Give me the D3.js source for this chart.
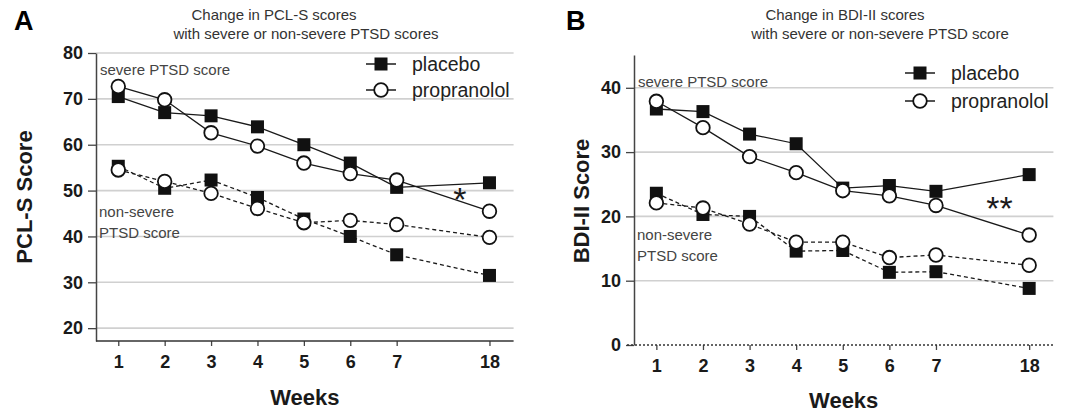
<!DOCTYPE html>
<html>
<head>
<meta charset="utf-8">
<script src="https://cdn.jsdelivr.net/npm/d3@7"></script>
<style>
body { margin: 0; background: #fff; }
svg text { font-family: "Liberation Sans", Arial, sans-serif; }
</style>
</head>
<body>
<div id="chart"></div>
<script>
// weeks on the x axis (18 sits after a gap)
var weeks = [1, 2, 3, 4, 5, 6, 7, 18];

// panel A: PCL-S scores
var pclSeverePlacebo = [70.5, 67.0, 66.3, 63.9, 60.0, 56.0, 50.7, 51.7];
var pclSeverePropranolol = [72.7, 69.8, 62.6, 59.7, 56.0, 53.7, 52.3, 45.5];
var pclMildPlacebo = [55.3, 50.5, 52.3, 48.5, 43.8, 40.0, 36.0, 31.5];
var pclMildPropranolol = [54.5, 52.0, 49.4, 46.1, 43.0, 43.5, 42.6, 39.8];
var pclTicks = [20, 30, 40, 50, 60, 70, 80];

// panel B: BDI-II scores
var bdiSeverePlacebo = [36.7, 36.3, 32.8, 31.3, 24.4, 24.8, 23.9, 26.5];
var bdiSeverePropranolol = [37.9, 33.8, 29.3, 26.8, 24.0, 23.2, 21.7, 17.1];
var bdiMildPlacebo = [23.6, 20.3, 20.0, 14.6, 14.7, 11.3, 11.4, 8.8];
var bdiMildPropranolol = [22.1, 21.3, 18.8, 16.0, 16.0, 13.6, 14.0, 12.4];
var bdiTicks = [0, 10, 20, 30, 40];

var svg = d3.select("#chart").append("svg")
    .attr("width", 1079)
    .attr("height", 414);

function drawPanel(p) {
    var g = svg.append("g");
    var right = p.left + 9 * p.unit;

    // x: weeks 1-7 evenly spaced, then week 18 two steps further
    var x = d3.scaleLinear()
        .domain([1, 7, 18])
        .range([p.left + 0.48 * p.unit, p.left + 6.48 * p.unit, p.left + 8.48 * p.unit]);
    var y = d3.scaleLinear().domain(p.yDomain).range([p.bottom, p.top]);

    // gridlines
    g.selectAll(".grid")
        .data(p.ticks.filter(function (d) { return y(d) < p.bottom - 2; }))
        .enter().append("line")
        .attr("x1", p.left).attr("x2", right)
        .attr("y1", function (d) { return y(d); })
        .attr("y2", function (d) { return y(d); })
        .attr("stroke", "#d0d0d0")
        .attr("stroke-width", 1.6);

    // y axis
    var ya = g.append("g")
        .attr("transform", "translate(" + p.left + ",0)")
        .call(d3.axisLeft(y).tickValues(p.ticks).tickSize(8).tickPadding(5).tickSizeOuter(0));
    ya.select(".domain").attr("stroke", "#444").attr("stroke-width", 1.5);
    ya.selectAll(".tick line").attr("stroke", "#444").attr("stroke-width", 1.3);
    ya.selectAll(".tick text")
        .attr("font-size", 18).attr("font-weight", "bold").attr("fill", "#1a1a1a")
        .style("font-family", "'Liberation Sans', Arial, sans-serif");

    // x axis
    var xa = g.append("g")
        .attr("transform", "translate(0," + p.bottom + ")")
        .call(d3.axisBottom(x).tickValues(weeks).tickSize(5).tickPadding(9));
    xa.select(".domain").remove();
    xa.append("line")
        .attr("x1", p.left - (p.dotted ? 7 : 0)).attr("x2", right)
        .attr("stroke", "#333").attr("stroke-width", 1.6)
        .attr("stroke-dasharray", p.dotted ? "2,2" : null);
    xa.selectAll(".tick line").attr("stroke", "#444").attr("stroke-width", 1.3);
    xa.selectAll(".tick text")
        .attr("font-size", 18).attr("font-weight", "bold").attr("fill", "#1a1a1a")
        .style("font-family", "'Liberation Sans', Arial, sans-serif");

    // axis titles
    g.append("text")
        .attr("x", (p.left + right) / 2).attr("y", p.weeksY)
        .attr("text-anchor", "middle")
        .attr("font-size", 22).attr("font-weight", "bold").attr("fill", "#1a1a1a")
        .text("Weeks");
    g.append("text")
        .attr("transform", "translate(" + p.yTitleX + "," + p.yTitleY + ") rotate(-90)")
        .attr("text-anchor", "middle")
        .attr("font-size", 22).attr("font-weight", "bold").attr("fill", "#1a1a1a")
        .text(p.yTitle);

    // panel letter and title
    g.append("text")
        .attr("x", p.letterX).attr("y", 30)
        .attr("font-size", 27).attr("font-weight", "bold")
        .text(p.letter);
    g.selectAll(".ttl")
        .data(p.title)
        .enter().append("text")
        .attr("x", function (d, i) { return p.titleX[i]; })
        .attr("y", function (d, i) { return 20 + i * 19; })
        .attr("text-anchor", "middle")
        .attr("font-size", 15).attr("fill", "#333")
        .text(function (d) { return d; });

    // group annotations
    g.append("text")
        .attr("x", p.left + 4).attr("y", y(p.severeLabelAt))
        .attr("font-size", 15).attr("fill", "#444")
        .text("severe PTSD score");
    g.selectAll(".mild")
        .data(["non-severe", "PTSD score"])
        .enter().append("text")
        .attr("x", p.left + 3)
        .attr("y", function (d, i) { return y(p.mildLabelAt) + i * 21; })
        .attr("font-size", 15).attr("fill", "#444")
        .text(function (d) { return d; });

    // significance stars
    g.append("text")
        .attr("x", x(p.starAt[0])).attr("y", y(p.starAt[1]))
        .attr("text-anchor", "middle")
        .attr("font-size", 34).attr("fill", "#1a1a1a")
        .text(p.star);

    var line = d3.line()
        .x(function (d, i) { return x(weeks[i]); })
        .y(function (d) { return y(d); });

    var series = [
        { values: p.severe[0], type: "square", dash: null },
        { values: p.severe[1], type: "circle", dash: null },
        { values: p.mild[0], type: "square", dash: "4,3" },
        { values: p.mild[1], type: "circle", dash: "4,3" }
    ];

    g.selectAll(".series")
        .data(series)
        .enter().append("path")
        .attr("d", function (d) { return line(d.values); })
        .attr("fill", "none")
        .attr("stroke", "#1a1a1a")
        .attr("stroke-width", 1.3)
        .attr("stroke-dasharray", function (d) { return d.dash; });

    // squares first, circles on top
    series.filter(function (s) { return s.type === "square"; }).forEach(function (s) {
        g.selectAll(null)
            .data(s.values)
            .enter().append("rect")
            .attr("x", function (d, i) { return x(weeks[i]) - 6.5; })
            .attr("y", function (d) { return y(d) - 6.5; })
            .attr("width", 13).attr("height", 13)
            .attr("fill", "#111");
    });
    series.filter(function (s) { return s.type === "circle"; }).forEach(function (s) {
        g.selectAll(null)
            .data(s.values)
            .enter().append("circle")
            .attr("cx", function (d, i) { return x(weeks[i]); })
            .attr("cy", function (d) { return y(d); })
            .attr("r", 6.8)
            .attr("fill", "#fff")
            .attr("stroke", "#111")
            .attr("stroke-width", 1.8);
    });

    // legend
    var legend = g.selectAll(".legend")
        .data(["placebo", "propranolol"])
        .enter().append("g")
        .attr("transform", function (d, i) { return "translate(" + p.legendX + "," + (p.legendY + i * p.legendGap) + ")"; });
    legend.append("line")
        .attr("x1", -15).attr("x2", 15)
        .attr("stroke", "#1a1a1a").attr("stroke-width", 1.5);
    legend.filter(function (d, i) { return i === 0; }).append("rect")
        .attr("x", -6.5).attr("y", -6.5).attr("width", 13).attr("height", 13).attr("fill", "#111");
    legend.filter(function (d, i) { return i === 1; }).append("circle")
        .attr("r", 6.8).attr("fill", "#fff").attr("stroke", "#111").attr("stroke-width", 1.8);
    legend.append("text")
        .attr("x", 31).attr("dy", "0.35em")
        .attr("font-size", 19.5).attr("fill", "#222")
        .text(function (d) { return d; });
}

drawPanel({
    left: 96, bottom: 341, top: 53, unit: 46.4,
    yDomain: [17.2, 80], ticks: pclTicks, dotted: false,
    yTitle: "PCL-S Score", yTitleX: 32, yTitleY: 197, weeksY: 405,
    letter: "A", letterX: 14,
    title: ["Change in PCL-S scores", "with severe or non-severe PTSD scores"],
    titleX: [274, 306],
    severeLabelAt: 75.2, mildLabelAt: 44.3,
    star: "*", starAt: [14.5, 45.5],
    severe: [pclSeverePlacebo, pclSeverePropranolol],
    mild: [pclMildPlacebo, pclMildPropranolol],
    legendX: 381, legendY: 64, legendGap: 26
});

drawPanel({
    left: 634, bottom: 345, top: 55, unit: 46.6,
    yDomain: [0, 45.1], ticks: bdiTicks, dotted: true,
    yTitle: "BDI-II Score", yTitleX: 589, yTitleY: 201, weeksY: 408,
    letter: "B", letterX: 566,
    title: ["Change in BDI-II scores", "with severe or non-severe PTSD score"],
    titleX: [845, 880],
    severeLabelAt: 40.1, mildLabelAt: 16.3,
    star: "**", starAt: [14.5, 19.4],
    severe: [bdiSeverePlacebo, bdiSeverePropranolol],
    mild: [bdiMildPlacebo, bdiMildPropranolol],
    legendX: 920, legendY: 73, legendGap: 28
});
</script>
</body>
</html>
